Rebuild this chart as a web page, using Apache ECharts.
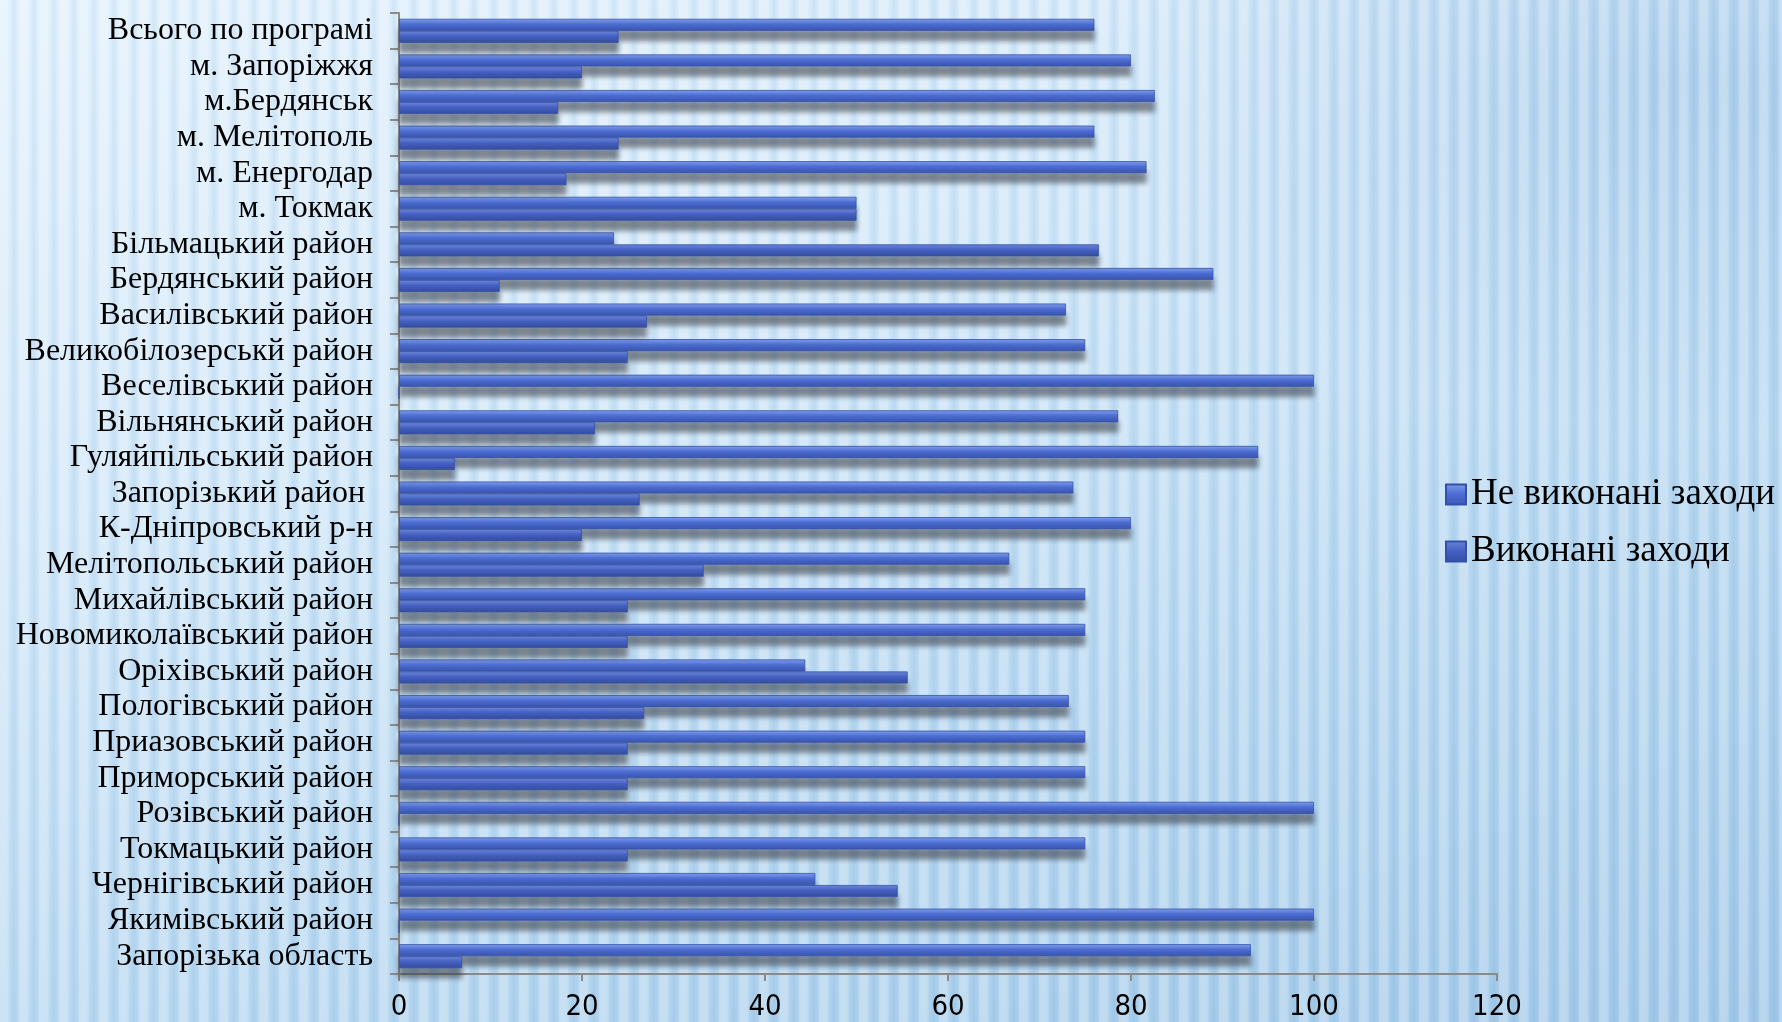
<!DOCTYPE html>
<html>
<head>
<meta charset="utf-8">
<script src="https://cdn.jsdelivr.net/npm/echarts@6/dist/echarts.min.js"></script>
<style>
html,body{margin:0;padding:0;width:1782px;height:1022px;overflow:hidden;}
body{
  background:
    repeating-linear-gradient(90deg, rgba(255,255,255,0.28) 0px, rgba(255,255,255,0.28) 7px, rgba(255,255,255,0) 10px, rgba(90,140,190,0.10) 14px, rgba(255,255,255,0) 18px, rgba(255,255,255,0.28) 20px),
    radial-gradient(ellipse 900px 500px at 1700px 80px, rgba(120,170,215,0.35), rgba(120,170,215,0) 70%),
    linear-gradient(160deg, #e2f1fc 0%, #cfe6f8 35%, #b6d7f0 65%, #9fc7e7 100%);
}
#chart{width:1782px;height:1022px;}
</style>
</head>
<body>
<div id="chart"></div>
<script>
const categories = ['Запорізька область','Якимівський район','Чернігівський район','Токмацький район','Розівський район','Приморський район','Приазовський район','Пологівський район','Оріхівський район','Новомиколаївський район','Михайлівський район','Мелітопольський район','К-Дніпровський р-н','Запорізький район ','Гуляйпільський район','Вільнянський район','Веселівський район','Великобілозерськй район','Василівський район','Бердянський район','Більмацький район','м. Токмак','м. Енергодар','м. Мелітополь','м.Бердянськ','м. Запоріжжя','Всього по програмі'];
const seriesNames = ['Не виконані заходи','Виконані заходи'];
const notDone = [93.1,100,45.5,75,100,75,75,73.2,44.4,75,75,66.7,80,73.7,93.9,78.6,100,75,72.9,89,23.5,50,81.7,76,82.6,80,76];
const done = [6.9,0,54.5,25,0,25,25,26.8,55.6,25,25,33.3,20,26.3,6.1,21.4,0,25,27.1,11,76.5,50,18.3,24,17.4,20,24];
const xTicks = {min:0, max:120, interval:20};

function grad(c1,c2,c3){
  return new echarts.graphic.LinearGradient(0,0,0,1,[
    {offset:0,color:c1},{offset:0.45,color:c2},{offset:1,color:c3}]);
}
const chart = echarts.init(document.getElementById('chart'), null, {renderer:'canvas'});
const barStyle = (c1,c2,c3)=>({
  color: grad(c1,c2,c3),
  borderColor:'#3550a8', borderWidth:0.8,
  shadowColor:'rgba(60,65,75,0.6)', shadowBlur:5, shadowOffsetY:10, shadowOffsetX:0
});
chart.setOption({
  backgroundColor:'transparent',
  animation:false,
  grid:{left:399, right:285, top:13, bottom:43, containLabel:false},
  legend:{
    orient:'vertical', left:1440, top:471, itemWidth:20, itemHeight:20, itemGap:20,
    icon:'rect',
    textStyle:{fontFamily:'"Liberation Serif","Times New Roman",serif', fontSize:37, color:'#000', lineHeight:37},
    data:seriesNames
  },
  xAxis:{
    type:'value', min:xTicks.min, max:xTicks.max, interval:xTicks.interval,
    axisLine:{show:true, lineStyle:{color:'#8a8a8a', width:2}},
    axisTick:{show:true, length:7, lineStyle:{color:'#8a8a8a', width:2}},
    splitLine:{show:false},
    axisLabel:{margin:19, fontFamily:'"Liberation Sans Narrow","DejaVu Sans Condensed","Arial Narrow",sans-serif', fontSize:29, color:'#000'}
  },
  yAxis:{
    type:'category', data:categories,
    axisLine:{show:true, lineStyle:{color:'#8a8a8a', width:2}},
    axisTick:{show:true, length:9, lineStyle:{color:'#8a8a8a', width:2}},
    axisLabel:{interval:0, margin:26, fontFamily:'"Liberation Serif","Times New Roman",serif', fontSize:32, color:'#000'}
  },
  series:[
    {name:seriesNames[0], type:'bar', data:notDone, barWidth:12, barGap:'0%',
     itemStyle:barStyle('#809ee8','#4d6ed5','#3a57b8')},
    {name:seriesNames[1], type:'bar', data:done, barWidth:12, barGap:'0%',
     itemStyle:barStyle('#6e86d8','#4662c4','#344ea6')}
  ]
});
</script>
</body>
</html>
